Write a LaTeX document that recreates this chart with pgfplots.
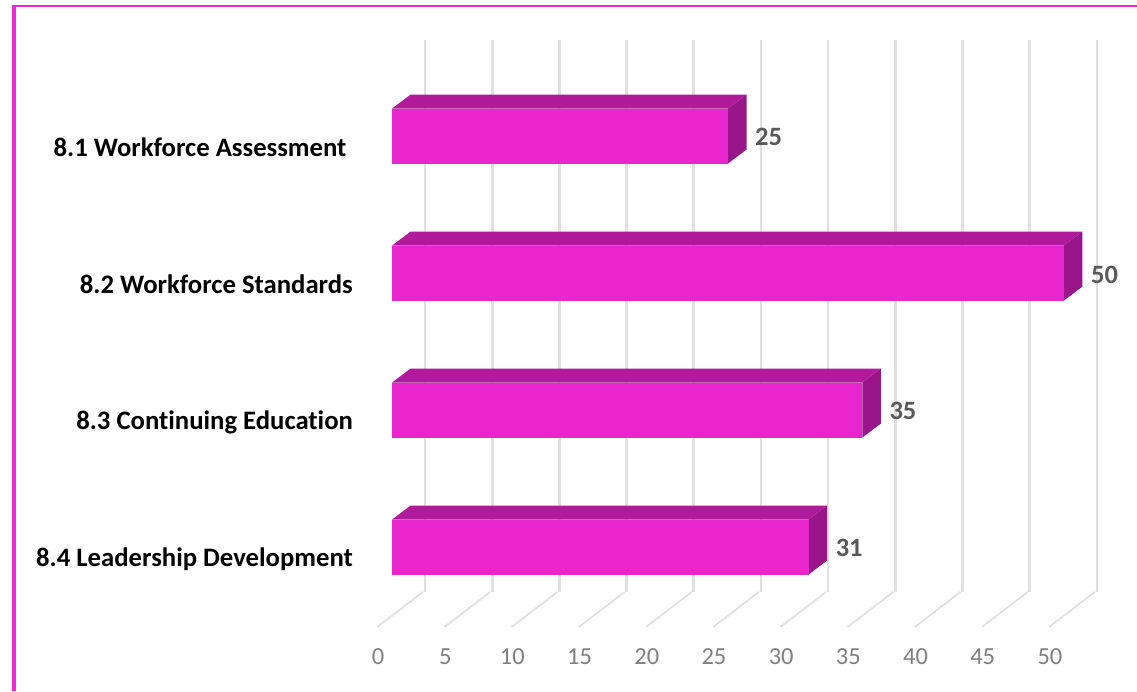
\documentclass[border=0pt]{standalone}
\usepackage{fontspec}
\setmainfont{Carlito}[Ligatures=NoCommon]
\usepackage{pgfplots}
\pgfplotsset{compat=1.18}
\definecolor{front}{HTML}{E926CE}
\definecolor{topf}{HTML}{B01A9B}
\definecolor{sidef}{HTML}{99158A}
\definecolor{edge}{HTML}{EE2AD3}
\definecolor{gridc}{HTML}{E0E0E0}
\definecolor{floorc}{HTML}{DDDDDD}
\definecolor{valc}{HTML}{595959}
\definecolor{tickc}{HTML}{7F7F7F}
\pgfplotsset{gridl/.style={gridc,line width=2.6pt},
  floorl/.style={floorc,line width=1.8pt,dash pattern=on 1.6pt off 0.5pt}}
\begin{document}
\begin{tikzpicture}
\begin{axis}[
  scale only axis,width=1137pt,height=691pt,
  xmin=-29.1667,xmax=55.4315,ymin=0,ymax=691,y dir=reverse,
  axis line style={draw=none},major tick length=0pt,
  clip=true,
  /pgf/number format/assume math mode=true,
  xtick={0,5,10,15,20,25,30,35,40,45,50},
  ytick={156,293,429,566},
  yticklabels={8.1 Workforce Assessment\kern6.3pt\mbox{},8.2 Workforce Standards,8.3 Continuing Education,8.4 Leadership Development},
  tick label style={inner sep=0pt},
  x tick label style={anchor=center,xshift=-14pt,yshift=34.5pt,text=tickc,font=\fontsize{24.5}{24.5}\selectfont},
  y tick label style={anchor=east,xshift=353pt,text height=8pt,text depth=8pt,text=black,font=\fontsize{26.7}{26.7}\selectfont\bfseries},
]
% border
\addplot[edge,line width=4pt] coordinates {(-28.125,691)(-28.125,5)};
\addplot[edge,line width=2.4pt] coordinates {(-28.27,6)(55.5,6)};
% back wall gridlines
\addplot[gridl] coordinates {(2.455,40)(2.455,592)};
\addplot[gridl] coordinates {(7.455,40)(7.455,592)};
\addplot[gridl] coordinates {(12.455,40)(12.455,592)};
\addplot[gridl] coordinates {(17.455,40)(17.455,592)};
\addplot[gridl] coordinates {(22.455,40)(22.455,592)};
\addplot[gridl] coordinates {(27.455,40)(27.455,592)};
\addplot[gridl] coordinates {(32.455,40)(32.455,592)};
\addplot[gridl] coordinates {(37.455,40)(37.455,592)};
\addplot[gridl] coordinates {(42.455,40)(42.455,592)};
\addplot[gridl] coordinates {(47.455,40)(47.455,592)};
\addplot[gridl] coordinates {(52.455,40)(52.455,592)};
% floor gridlines
\addplot[floorl] coordinates {(2.3,592)(-1.1,627)};
\addplot[floorl] coordinates {(7.3,592)(3.9,627)};
\addplot[floorl] coordinates {(12.3,592)(8.9,627)};
\addplot[floorl] coordinates {(17.3,592)(13.9,627)};
\addplot[floorl] coordinates {(22.3,592)(18.9,627)};
\addplot[floorl] coordinates {(27.3,592)(23.9,627)};
\addplot[floorl] coordinates {(32.3,592)(28.9,627)};
\addplot[floorl] coordinates {(37.3,592)(33.9,627)};
\addplot[floorl] coordinates {(42.3,592)(38.9,627)};
\addplot[floorl] coordinates {(47.3,592)(43.9,627)};
\addplot[floorl] coordinates {(52.3,592)(48.9,627)};
% bar 8.1 = 25
\addplot[fill=topf,draw=none] coordinates {(0,108.5)(25,108.5)(26.38,94.5)(1.38,94.5)} --cycle;
\addplot[fill=sidef,draw=none] coordinates {(25,108.5)(26.38,94.5)(26.38,149.5)(25,163.5)} --cycle;
\addplot[fill=front,draw=none] coordinates {(0,108.5)(25,108.5)(25,163.5)(0,163.5)} --cycle;
% bar 8.2 = 50
\addplot[fill=topf,draw=none] coordinates {(0,245.5)(50,245.5)(51.38,231.5)(1.38,231.5)} --cycle;
\addplot[fill=sidef,draw=none] coordinates {(50,245.5)(51.38,231.5)(51.38,286.5)(50,300.5)} --cycle;
\addplot[fill=front,draw=none] coordinates {(0,245.5)(50,245.5)(50,300.5)(0,300.5)} --cycle;
% bar 8.3 = 35
\addplot[fill=topf,draw=none] coordinates {(0,382.5)(35,382.5)(36.38,368.5)(1.38,368.5)} --cycle;
\addplot[fill=sidef,draw=none] coordinates {(35,382.5)(36.38,368.5)(36.38,423.5)(35,437.5)} --cycle;
\addplot[fill=front,draw=none] coordinates {(0,382.5)(35,382.5)(35,437.5)(0,437.5)} --cycle;
% bar 8.4 = 31
\addplot[fill=topf,draw=none] coordinates {(0,519.5)(31,519.5)(32.38,505.5)(1.38,505.5)} --cycle;
\addplot[fill=sidef,draw=none] coordinates {(31,519.5)(32.38,505.5)(32.38,560.5)(31,574.5)} --cycle;
\addplot[fill=front,draw=none] coordinates {(0,519.5)(31,519.5)(31,574.5)(0,574.5)} --cycle;
% value labels
\addplot[only marks,mark=none,point meta=explicit symbolic,
  nodes near coords,
  nodes near coords align={anchor=west},
  every node near coord/.append style={xshift=27pt,inner sep=0pt,text=valc,font=\fontsize{26.5}{26.5}\selectfont\bfseries}]
  coordinates {(25,137)[25] (50,275)[50] (35,411)[35] (31,548)[31]};
\end{axis}
\end{tikzpicture}
\end{document}
